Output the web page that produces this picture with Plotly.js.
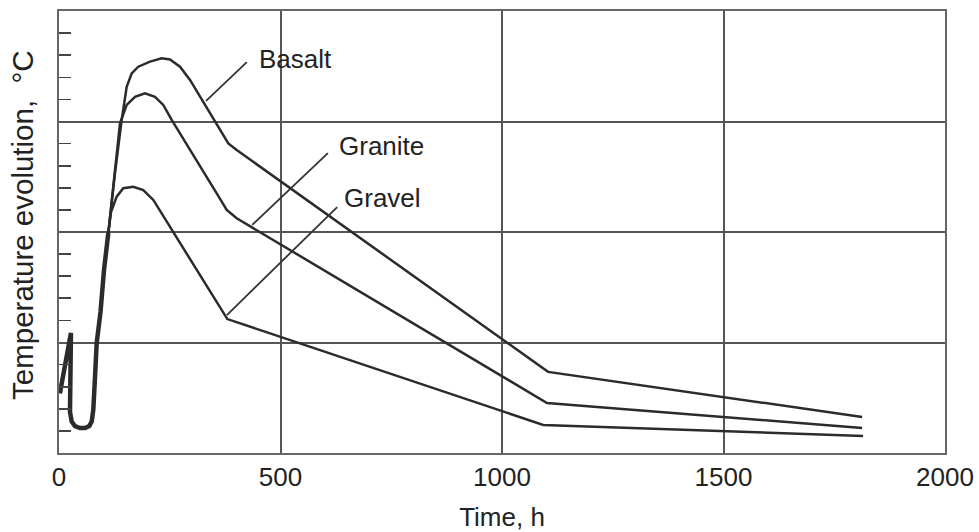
<!DOCTYPE html>
<html>
<head>
<meta charset="utf-8">
<script src="https://cdn.plot.ly/plotly-3.0.1.min.js"></script>
<style>html,body{margin:0;padding:0;background:#fff;}#chart{width:979px;height:532px;}</style>
</head>
<body>
<div id="chart"></div>
<script>
// Shared early transient (all three materials overlap)
const sharedTime = [2, 27, 24.8, 28.7, 36, 47.4, 58.7, 68.4, 73.8, 77.4, 81.3, 85.1, 93.7, 101.6, 111.3];
const sharedTemp = [2.7, 5.43, 1.86, 1.42, 1.22, 1.13, 1.13, 1.22, 1.42, 1.95, 3.44, 4.98, 6.38, 8.28, 9.95];

// Basalt
const basaltTime = [111.3, 126.4, 141.5, 152.8, 164.1, 179, 205.4, 231.8, 250.6, 273.1, 295.7, 318.3, 340.9, 363.4, 382.2, 401.1, 1104, 1813];
const basaltTemp = [9.95, 12.67, 15.07, 16.57, 17.18, 17.48, 17.71, 17.86, 17.81, 17.48, 16.88, 16.12, 15.37, 14.62, 14.01, 13.71, 3.67, 1.63];

// Granite
const graniteTime = [111.3, 126.4, 137.7, 152.8, 171.6, 194.1, 216.7, 235.4, 254.4, 356, 378.6, 401.1, 1101.6, 1813];
const graniteTemp = [9.95, 12.67, 14.92, 15.75, 16.12, 16.28, 16.12, 15.75, 15.07, 11.75, 11.0, 10.62, 2.26, 1.13];

// Gravel
const gravelTime = [111.3, 117.4, 130.2, 145.1, 167.7, 190.3, 212.9, 243.1, 380, 1093, 1815];
const gravelTemp = [9.95, 10.9, 11.6, 11.98, 12.05, 11.9, 11.45, 10.47, 6.06, 1.27, 0.77];

const xTickVals = [0, 500, 1000, 1500, 2000];
const xTickText = ["0", "500", "1000", "1500", "2000"];

// Curve labels and leader lines
const labelNames = ["Basalt", "Granite", "Gravel"];
const labelX = [447, 628, 639];
const labelY = [17.83, 13.89, 11.54];
const leaderX0 = [424, 607, 628];
const leaderY0 = [17.69, 13.57, 11.13];
const leaderX1 = [332, 436, 379];
const leaderY1 = [15.93, 10.32, 6.24];

const lineColor = "#2b2b2b";
const FONT = "Liberation Sans, Arial, Helvetica, sans-serif";

const traces = [
  {x: sharedTime, y: sharedTemp, mode: "lines", line: {color: lineColor, width: 4.5}, hoverinfo: "skip"},
  {x: basaltTime, y: basaltTemp, mode: "lines", name: "Basalt", line: {color: lineColor, width: 2.5}},
  {x: graniteTime, y: graniteTemp, mode: "lines", name: "Granite", line: {color: lineColor, width: 2.5}},
  {x: gravelTime, y: gravelTemp, mode: "lines", name: "Gravel", line: {color: lineColor, width: 2.5}}
];

const annotations = labelNames.map((t, i) => ({
  text: t, x: labelX[i], y: labelY[i], xref: "x", yref: "y",
  xanchor: "left", yanchor: "middle", showarrow: false,
  font: {family: FONT, size: 26, color: "#222"}
}));
annotations.push({
  text: "Temperature evolution,  °C", textangle: -90,
  xref: "paper", yref: "paper", x: -0.0406, y: 0.516,
  xanchor: "center", yanchor: "middle", showarrow: false,
  font: {family: FONT, size: 29.5, color: "#222"}
});

const shapes = labelNames.map((t, i) => ({
  type: "line", xref: "x", yref: "y",
  x0: leaderX0[i], y0: leaderY0[i], x1: leaderX1[i], y1: leaderY1[i],
  line: {color: "#333", width: 1.8}
}));

const layout = {
  width: 979, height: 532,
  margin: {l: 59, r: 34, t: 11, b: 79},
  paper_bgcolor: "#fff", plot_bgcolor: "#fff",
  showlegend: false,
  font: {family: FONT, size: 26, color: "#222"},
  xaxis: {
    range: [0, 2000], tickvals: xTickVals, ticktext: xTickText,
    showgrid: true, gridcolor: "#555", gridwidth: 2,
    zeroline: false, showline: true, mirror: true, linecolor: "#666", linewidth: 2,
    ticks: "", ticklen: 0,
    tickfont: {family: FONT, size: 26, color: "#222"},
    title: {text: "Time, h", font: {family: FONT, size: 26, color: "#222"}, standoff: 17},
    automargin: false,
    fixedrange: true
  },
  yaxis: {
    range: [0, 20], dtick: 5, tick0: 0,
    showticklabels: false,
    showgrid: true, gridcolor: "#555", gridwidth: 2,
    zeroline: false, showline: true, mirror: true, linecolor: "#666", linewidth: 2,
    ticks: "",
    minor: {dtick: 1, ticks: "inside", ticklen: 12, tickcolor: "#444", tickwidth: 1.6, showgrid: false},
    automargin: false,
    fixedrange: true
  },
  annotations: annotations,
  shapes: shapes
};

Plotly.newPlot("chart", traces, layout, {displayModeBar: false, staticPlot: true});
</script>
</body>
</html>
